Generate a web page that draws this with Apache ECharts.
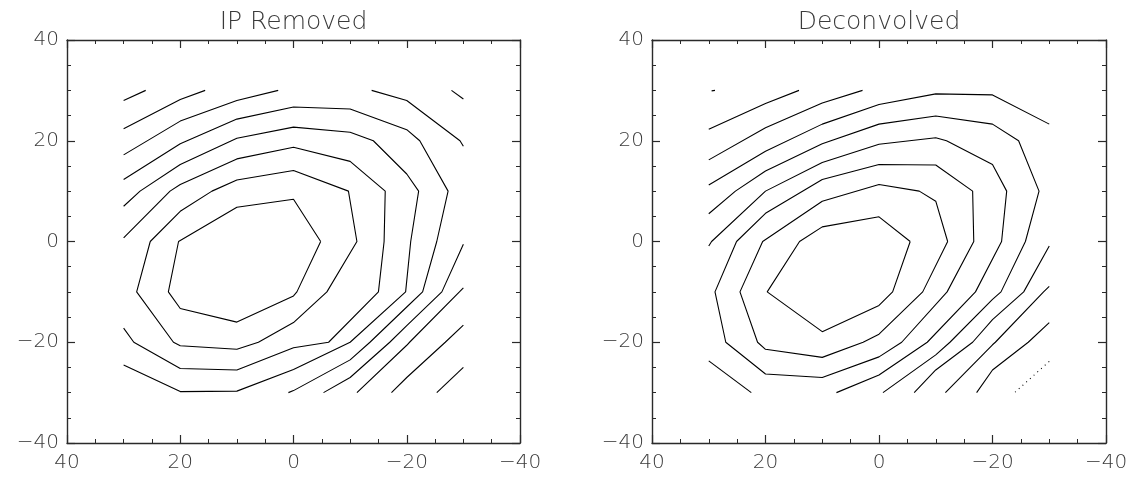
<!DOCTYPE html>
<html>
<head>
<meta charset="utf-8">
<script src="https://cdn.jsdelivr.net/npm/echarts@6/dist/echarts.min.js"></script>
<style>
  html, body { margin: 0; padding: 0; background: #fff; }
  #chart { width: 1141px; height: 477px; }
</style>
</head>
<body>
<div id="chart"></div>
<script>
// contour polylines, [x, y] in data units
const ipRemovedLines = [
  [[30, 28], [26.1, 30]],
  [[30, 22.4], [20, 28.2], [15.6, 30]],
  [[30, 17.2], [20, 23.9], [10, 28], [2.7, 30]],
  [[30, 12.3], [20, 19.4], [10, 24.3], [0, 26.7], [-10, 26.3], [-20, 22.2], [-22.3, 20], [-27.3, 10], [-25.3, 0],
   [-22.8, -10], [-20, -13], [-13.5, -20], [-10, -23.5], [0, -29.6], [0.9, -30]],
  [[30, 7], [27.1, 10], [20, 15.3], [10, 20.5], [0, 22.7], [-10, 21.7], [-14.1, 20], [-20, 13.4], [-22.1, 10], [-20.7, 0],
   [-19.8, -10], [-10, -20], [0, -25.4], [10, -29.7], [20, -29.8], [30, -24.5]],
  [[30, 0.7], [21.8, 10], [20, 11.3], [10, 16.4], [0, 18.7], [-10, 15.9], [-16.2, 10], [-16, 0], [-15, -10],
   [-6.2, -20], [0, -21.1], [10, -25.5], [20, -25.2], [28.2, -20], [30, -17.2]],
  [[25.3, 0], [20, 6], [14.4, 10], [10, 12.2], [0, 14.1], [-9.7, 10], [-11.2, 0], [-5.9, -10], [0, -16.1], [6.2, -20],
   [10, -21.4], [20, -20.7], [21.2, -20], [27.7, -10], [25.3, 0]],
  [[-4.8, 0], [0, 8.4], [10, 6.8], [20.3, 0], [22.1, -10], [20, -13.3], [10, -16], [0, -10.8], [-0.6, -10], [-4.8, 0]],
  [[-27.9, 30], [-30, 28.3]],
  [[-13.8, 30], [-20, 28], [-29.4, 20], [-30, 18.9]],
  [[-30, -0.55], [-26.2, -10], [-20, -16.7], [-17, -20], [-10, -27], [-5.3, -30]],
  [[-30, -9.2], [-29.3, -10], [-20.5, -20], [-20, -20.6], [-11.2, -30]],
  [[-30, -16.6], [-26.8, -20], [-20, -27], [-17.3, -30]],
  [[-30, -25], [-25.3, -30]]
];

const deconvolvedLines = [
  [[29.5, 29.9], [28.9, 30]],
  [[30, 22.3], [20, 27.4], [14.1, 30]],
  [[30, 16.2], [20, 22.6], [10, 27.5], [2.9, 30]],
  [[30, 11.2], [20, 17.9], [10, 23.3], [0, 27.2], [-10, 29.3], [-20, 29.1], [-30, 23.3]],
  [[30, 5.5], [25.3, 10], [20, 14], [10, 19.4], [0, 23.3], [-10, 24.9], [-20, 23.3], [-24.6, 20], [-28.2, 10],
   [-25.8, 0], [-21.5, -10], [-20, -11.5], [-12.5, -20], [-10, -22.5], [-0.7, -30]],
  [[30, -0.9], [29.5, 0], [20, 10], [10, 15.7], [0, 19.3], [-10, 20.6], [-11.9, 20], [-20, 15.3], [-22.5, 10],
   [-21.6, 0], [-17, -10], [-8.5, -20], [0, -26.5], [7.5, -30]],
  [[30, -23.7], [22.5, -30]],
  [[25.1, 0], [20, 5.6], [10, 12.3], [0, 15.3], [-10, 15.2], [-16.5, 10], [-16.7, 0], [-12, -10], [-4, -20],
   [0, -22.9], [10, -27], [20, -26.3], [27, -20], [28.9, -10], [25.1, 0]],
  [[-12.1, 0], [-10, 8], [-7.1, 10], [0, 11.3], [10, 8], [20.5, 0], [24.5, -10], [21.4, -20], [20, -21.4],
   [10, -23], [2.8, -20], [0, -18.4], [-7.7, -10], [-12.1, 0]],
  [[-5.5, 0], [0, 4.9], [10, 2.9], [14, 0], [19.7, -10], [10, -17.9], [0, -12.7], [-2.4, -10], [-5.5, 0]],
  [[-30, -0.9], [-25.5, -10], [-20, -15.5], [-16.5, -20], [-10, -25.5], [-6.2, -30]],
  [[-30, -8.9], [-29, -10], [-20.5, -20], [-20, -20.5], [-11.7, -30]],
  [[-30, -16.1], [-26.3, -20], [-20, -25.5], [-17.2, -30]]
];
const deconvolvedDotted = [[-30, -23.8], [-23.9, -30]];

const panelTitles = ['IP Removed', 'Deconvolved'];
const axisMin = -40;
const axisMax = 40;
const axisStep = 20;

const chart = echarts.init(document.getElementById('chart'), null, { renderer: 'canvas' });

const fontFamily = '"DejaVu Sans", "Liberation Sans", sans-serif';
const textColor = '#3a3a3a';
const frameColor = '#2a2a2a';
const grids = [
  { left: 67, top: 40, width: 453, height: 403 },
  { left: 652, top: 40, width: 454, height: 403 }
];

const minus = (v) => String(v).replace('-', '\u2212');

function xAxisFor(gridIndex, position) {
  return {
    type: 'value', gridIndex, position, inverse: true,
    min: axisMin, max: axisMax, interval: axisStep,
    axisLine: { show: true, onZero: false, lineStyle: { color: frameColor, width: 1.4 } },
    axisTick: { show: true, inside: true, length: 8, lineStyle: { color: frameColor, width: 1.2 } },
    minorTick: { show: true, splitNumber: 4, length: 4, lineStyle: { color: frameColor, width: 1 } },
    splitLine: { show: false },
    axisLabel: {
      show: position === 'bottom', margin: 10, formatter: minus,
      fontFamily, fontSize: 20, fontWeight: 200, color: textColor
    }
  };
}

function yAxisFor(gridIndex, position) {
  return {
    type: 'value', gridIndex, position,
    min: axisMin, max: axisMax, interval: axisStep,
    axisLine: { show: true, onZero: false, lineStyle: { color: frameColor, width: 1.4 } },
    axisTick: { show: true, inside: true, length: 8, lineStyle: { color: frameColor, width: 1.2 } },
    minorTick: { show: true, splitNumber: 4, length: 4, lineStyle: { color: frameColor, width: 1 } },
    splitLine: { show: false },
    axisLabel: {
      show: position === 'left', margin: 8, formatter: minus,
      fontFamily, fontSize: 20, fontWeight: 200, color: textColor
    }
  };
}

function lineSeries(points, axisIndex, dotted) {
  return {
    type: 'line', xAxisIndex: axisIndex, yAxisIndex: axisIndex,
    data: points, symbol: 'none', showSymbol: false, silent: true,
    lineStyle: { color: '#000', width: 1.1, type: dotted ? [1, 4] : 'solid' }
  };
}

const series = [];
ipRemovedLines.forEach((pts) => series.push(lineSeries(pts, 0, false)));
deconvolvedLines.forEach((pts) => series.push(lineSeries(pts, 2, false)));
series.push(lineSeries(deconvolvedDotted, 2, true));

const option = {
  animation: false,
  backgroundColor: '#fff',
  grid: grids,
  xAxis: [xAxisFor(0, 'bottom'), xAxisFor(0, 'top'), xAxisFor(1, 'bottom'), xAxisFor(1, 'top')],
  yAxis: [yAxisFor(0, 'left'), yAxisFor(0, 'right'), yAxisFor(1, 'left'), yAxisFor(1, 'right')],
  graphic: panelTitles.map((t, i) => ({
    type: 'text',
    x: grids[i].left + grids[i].width / 2,
    y: 22,
    style: {
      text: t, align: 'center', verticalAlign: 'middle',
      font: '200 25px ' + fontFamily, fill: textColor
    }
  })),
  series
};

chart.setOption(option);
</script>
</body>
</html>
